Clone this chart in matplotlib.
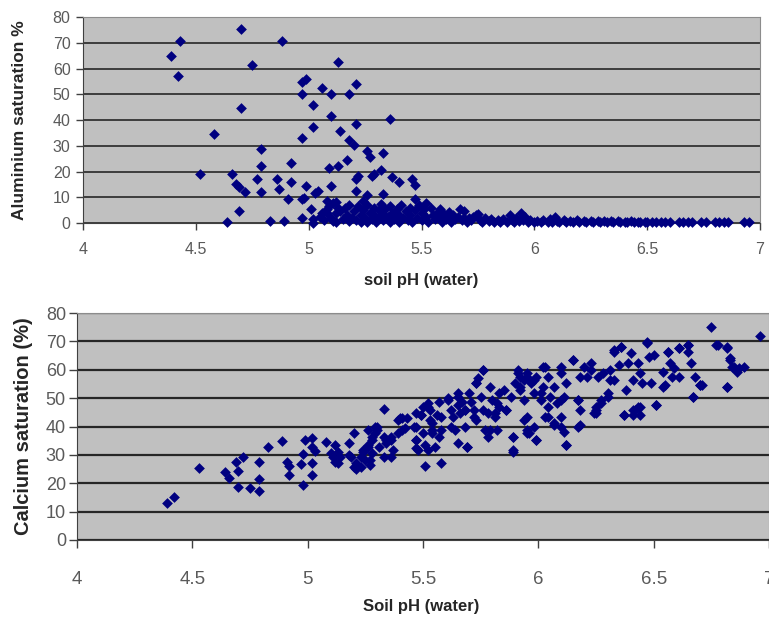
import matplotlib
matplotlib.use("Agg")
import matplotlib.pyplot as plt

plt.rcParams['font.family'] = ['Liberation Sans', 'DejaVu Sans']

# ---------------- Top chart: Aluminium saturation vs soil pH ----------------
al_ph = [4.39, 4.43, 4.42, 4.52, 4.58, 4.64, 4.66, 4.68, 4.69, 4.69, 4.70, 4.70, 4.72, 4.75,
         4.77, 4.79, 4.79, 4.79, 4.83, 4.86, 4.87, 4.88, 4.89, 4.91, 4.92, 4.92, 4.97, 4.97,
         4.97, 4.99, 4.97, 4.97, 4.99, 4.98, 5.02, 5.02, 5.01, 5.02, 5.02, 5.03, 5.04, 5.06,
         5.08, 5.08, 5.08, 5.09, 5.10, 5.10, 5.10, 5.11, 5.12, 5.12, 5.13, 5.13, 5.13, 5.14,
         5.11, 5.17, 5.18, 5.18, 5.18, 5.20, 5.21, 5.21, 5.21, 5.21, 5.22, 5.24, 5.26, 5.27,
         5.26, 5.28, 5.29, 5.32, 5.33, 5.33, 5.36, 5.37, 5.40, 5.46, 5.47, 5.47, 5.52, 5.58,
         5.62, 5.67, 5.69, 5.74, 5.75, 5.89, 5.94, 5.96, 6.09,
         # dense cluster 5.05-5.75
         5.05, 5.06, 5.07, 5.09, 5.10, 5.12, 5.14, 5.15, 5.16, 5.17, 5.18, 5.19, 5.20, 5.21,
         5.22, 5.23, 5.23, 5.24, 5.25, 5.26, 5.26, 5.27, 5.28, 5.29, 5.29, 5.30, 5.31, 5.31,
         5.32, 5.33, 5.33, 5.34, 5.35, 5.36, 5.36, 5.37, 5.38, 5.39, 5.40, 5.40, 5.41, 5.42,
         5.43, 5.44, 5.45, 5.45, 5.46, 5.47, 5.48, 5.49, 5.50, 5.50, 5.51, 5.52, 5.53, 5.54,
         5.55, 5.56, 5.57, 5.58, 5.59, 5.60, 5.61, 5.62, 5.63, 5.64, 5.65, 5.66, 5.68, 5.69,
         5.70, 5.71, 5.72, 5.73,
         # near-zero band
         5.76, 5.77, 5.78, 5.80, 5.81, 5.82, 5.84, 5.85, 5.86, 5.88, 5.90, 5.91, 5.92, 5.93,
         5.95, 5.97, 5.98, 6.00, 6.01, 6.03, 6.04, 6.06, 6.07, 6.08, 6.10, 6.11, 6.13, 6.14,
         6.16, 6.17, 6.19, 6.20, 6.22, 6.23, 6.25, 6.26, 6.28, 6.29, 6.31, 6.32, 6.34, 6.35,
         6.37, 6.38, 6.40, 6.41, 6.43, 6.44, 6.46, 6.47, 6.49, 6.50, 6.52, 6.54, 6.56, 6.58,
         6.60, 6.64, 6.66, 6.68, 6.70, 6.74, 6.76, 6.80, 6.82, 6.84, 6.86, 6.93, 6.95]
al_sat = [64.8, 70.8, 57.0, 19.1, 34.7, 0.5, 19.2, 15.0, 4.7, 14.1, 75.2, 44.8, 12.2, 61.4,
          17.0, 28.7, 22.3, 12.0, 0.9, 17.1, 13.2, 70.8, 0.9, 9.3, 23.4, 15.8, 33.0, 50.0,
          54.9, 55.9, 9.3, 1.9, 14.4, 9.6, 45.8, 37.3, 5.3, 1.5, 0.0, 11.5, 12.5, 52.5,
          8.5, 3.8, 5.5, 21.2, 50.0, 41.6, 14.3, 7.6, 3.9, 8.3, 62.4, 22.3, 5.8, 35.7,
          0.8, 24.5, 50.0, 32.3, 0.9, 30.3, 54.0, 38.5, 17.0, 12.6, 18.3, 8.6, 27.8, 25.8,
          10.9, 18.2, 19.0, 20.6, 27.2, 11.1, 40.3, 17.7, 16.0, 17.2, 14.6, 9.3, 7.6, 5.3,
          4.4, 5.3, 4.6, 3.2, 3.4, 3.1, 4.0, 2.5, 2.5,
          2.5, 4.0, 1.0, 6.5, 2.0, 0.5, 4.5, 1.5, 6.0, 3.0, 7.0, 2.0, 4.5, 1.0,
          6.5, 3.0, 0.5, 5.0, 2.0, 7.0, 0.5, 4.0, 1.5, 6.0, 3.0, 0.5, 5.0, 2.0,
          7.5, 3.5, 1.0, 5.5, 2.5, 0.5, 6.5, 4.0, 1.5, 5.5, 3.0, 0.5, 7.0, 2.0,
          4.5, 1.0, 6.0, 3.0, 0.5, 5.0, 2.0, 7.0, 4.0, 1.0, 5.5, 2.5, 0.5, 6.0,
          3.0, 1.5, 4.0, 2.0, 0.5, 3.5, 1.5, 2.5, 0.5, 3.0, 1.5, 2.5, 1.0, 2.0,
          0.5, 2.0, 1.0, 2.5,
          1.2, 0.4, 1.8, 0.6, 1.4, 0.3, 1.0, 0.5, 1.6, 0.4, 1.2, 0.3, 1.8, 0.6,
          1.0, 0.4, 1.3, 0.5, 0.9, 0.3, 1.1, 0.5, 1.4, 0.3, 0.9, 0.4, 1.2, 0.3,
          0.8, 0.4, 1.0, 0.3, 0.7, 0.4, 0.9, 0.3, 0.6, 0.4, 0.8, 0.3, 0.6, 0.4,
          0.7, 0.3, 0.5, 0.4, 0.6, 0.3, 0.5, 0.4, 0.5, 0.3, 0.4, 0.3, 0.4, 0.3,
          0.4, 0.3, 0.4, 0.3, 0.4, 0.3, 0.3, 0.4, 0.3, 0.3, 0.4, 0.3, 0.3]

# ---------------- Bottom chart: Calcium saturation vs soil pH ----------------
ca_ph = [4.39, 4.42, 4.53, 4.64, 4.66, 4.69, 4.70, 4.70, 4.72, 4.75, 4.79, 4.79, 4.79, 4.83,
         4.89, 4.91, 4.92, 4.92, 4.97, 4.98, 4.98, 4.99, 5.02, 5.02, 5.03, 5.02, 5.02, 5.08,
         5.10, 5.11, 5.12, 5.12, 5.13, 5.14, 5.18, 5.18, 5.20, 5.21, 5.20, 5.23, 5.24, 5.25,
         5.26, 5.26, 5.27, 5.28, 5.28, 5.29, 5.30, 5.31, 5.33, 5.33, 5.34, 5.36, 5.36, 5.37,
         5.39, 5.39,
         5.13, 5.19, 5.21, 5.23, 5.24, 5.26, 5.27, 5.28, 5.29, 5.30, 5.33, 5.34, 5.36, 5.40,
         5.42, 5.43, 5.47, 5.47, 5.48, 5.47, 5.49, 5.50, 5.51, 5.52, 5.52, 5.53, 5.54, 5.54,
         5.56, 5.57, 5.57, 5.58, 5.51, 5.58, 5.61, 5.62, 5.63, 5.64, 5.65, 5.65, 5.66, 5.67,
         5.68, 5.68, 5.69, 5.70, 5.71, 5.72, 5.73, 5.73, 5.74, 5.75, 5.76, 5.76, 5.77, 5.78,
         5.79, 5.80, 5.81, 5.82, 5.83, 5.85, 5.86, 5.88, 5.89, 5.89, 5.90, 5.91, 5.92, 5.94,
         5.95, 5.95,
         5.41, 5.41, 5.46, 5.47, 5.47, 5.49, 5.50, 5.52, 5.53, 5.54, 5.55, 5.58, 5.61, 5.62,
         5.65, 5.65, 5.68, 5.69, 5.72, 5.73, 5.76, 5.78, 5.79, 5.81, 5.82, 5.83, 5.86, 5.89,
         5.89, 5.91, 5.92, 5.94, 5.95, 5.96, 5.98, 5.99, 6.01, 6.02, 6.04, 6.04, 6.07, 6.10,
         6.10, 6.12, 6.15, 6.17, 6.18, 6.24, 6.25, 6.27, 6.30, 6.31, 6.33, 6.36, 6.37, 6.41,
         6.43, 6.47, 6.51, 6.55, 6.56, 6.61, 6.65, 6.67, 6.70, 6.75, 6.77, 6.82, 6.82, 6.83,
         6.85, 6.86, 6.89, 6.96,
         5.92, 5.95, 5.97, 5.98, 5.99, 6.01, 6.02, 6.03, 6.04, 6.05, 6.07, 6.08, 6.10, 6.10,
         6.11, 6.12, 6.15, 6.17, 6.18, 6.20, 6.21, 6.23, 6.23, 6.25, 6.26, 6.27, 6.28, 6.30,
         6.31, 6.33, 6.33, 6.35, 6.36, 6.38, 6.39, 6.40, 6.41, 6.41, 6.43, 6.44, 6.44, 6.45,
         6.47, 6.48, 6.49, 6.50, 6.51, 6.54, 6.54, 6.56, 6.57, 6.58, 6.59, 6.61, 6.61, 6.65,
         6.65, 6.66, 6.67, 6.68, 6.70, 6.71, 6.78, 6.82, 6.83, 6.82, 6.84, 6.87,
         5.94, 5.95, 5.98, 5.99, 6.03, 6.07, 6.10, 6.11, 6.12, 6.17, 6.18, 6.25, 6.37, 6.42,
         6.44]
ca_sat = [13.2, 15.3, 25.3, 24.1, 21.7, 27.6, 24.4, 18.8, 29.4, 18.2, 27.4, 21.6, 17.3, 32.9,
          34.9, 27.6, 26.2, 22.9, 26.8, 30.3, 19.4, 35.2, 36.1, 32.7, 31.5, 27.2, 22.9, 34.6,
          30.5, 29.4, 27.6, 33.5, 31.1, 29.4, 34.1, 30.0, 25.8, 24.9, 37.6, 29.4, 31.1, 28.2,
          32.9, 38.8, 26.4, 30.5, 35.2, 37.6, 39.9, 32.9, 46.2, 36.4, 34.1, 35.2, 29.4, 31.7,
          37.6, 42.3,
          27.0, 29.4, 27.0, 25.8, 31.7, 33.5, 28.2, 36.4, 39.9, 38.8, 29.4, 35.2, 36.4, 42.9,
          39.4, 42.9, 39.9, 35.2, 31.7, 44.6, 44.0, 37.6, 33.5, 31.7, 47.0, 45.8, 41.1, 38.8,
          44.0, 36.4, 48.7, 38.8, 26.1, 27.0, 49.9, 45.8, 43.5, 38.8, 51.7, 47.6, 44.6, 48.7,
          45.8, 39.9, 32.9, 51.7, 48.7, 45.8, 55.2, 42.3, 57.0, 50.5, 45.8, 59.9, 38.8, 44.6,
          54.0, 49.3, 44.6, 38.8, 47.0, 52.9, 45.8, 50.5, 36.4, 31.7, 55.2, 59.9, 52.9, 56.4,
          57.5, 38.8,
          42.9, 38.8, 39.9, 35.2, 32.3, 44.0, 47.0, 48.2, 42.3, 37.6, 32.9, 43.5, 49.3, 39.9,
          50.5, 34.1, 45.8, 32.9, 43.5, 55.2, 59.9, 36.4, 38.8, 43.5, 48.2, 51.7, 45.8, 36.4,
          31.1, 58.7, 54.0, 49.3, 43.5, 37.6, 56.4, 35.2, 51.7, 61.1, 47.0, 43.5, 41.1, 49.3,
          39.9, 33.5, 63.4, 49.3, 40.5, 44.6, 47.0, 49.3, 51.7, 56.4, 67.0, 68.1, 44.0, 44.0,
          47.0, 69.5, 47.6, 54.6, 66.4, 67.6, 68.7, 50.5, 54.6, 75.2, 68.7, 68.1, 54.0, 63.4,
          61.1, 59.3, 61.1, 72.0,
          57.5, 58.7, 55.2, 51.7, 57.5, 49.3, 54.0, 61.1, 57.5, 50.5, 54.0, 48.2, 58.7, 61.1,
          50.5, 55.2, 63.4, 49.3, 57.5, 61.1, 57.5, 62.3, 59.9, 45.8, 57.5, 48.2, 58.7, 50.5,
          59.9, 66.4, 56.4, 61.7, 68.1, 52.9, 62.3, 65.8, 56.4, 45.8, 62.3, 47.0, 58.7, 55.2,
          69.9, 64.6, 55.2, 65.2, 47.6, 59.3, 54.0, 66.4, 62.3, 57.5, 60.5, 67.6, 57.5, 68.7,
          66.4, 62.3, 50.5, 57.5, 54.6, 54.6, 68.7, 67.6, 64.0, 54.0, 61.1, 60.5,
          42.3, 37.6, 39.9, 35.2, 43.5, 40.5, 43.5, 38.2, 33.5, 39.9, 45.8, 44.6, 44.0, 45.8,
          44.0]

x_ticks = [4, 4.5, 5, 5.5, 6, 6.5, 7]
x_tick_labels = ['4', '4.5', '5', '5.5', '6', '6.5', '7']
y_ticks = [0, 10, 20, 30, 40, 50, 60, 70, 80]

marker_color = '#000080'
bg = '#C0C0C0'
tick_col = '#5a5a5a'
lab_col = '#262626'

fig = plt.figure(figsize=(7.69, 6.24), dpi=100)

# Top axes
ax1 = fig.add_axes([83/769, 1-223/624, (760-83)/769, (223-17)/624])
ax1.set_facecolor(bg)
ax1.set_xlim(4, 7)
ax1.set_ylim(0, 80)
ax1.set_yticks(y_ticks)
ax1.set_xticks(x_ticks)
ax1.set_xticklabels(x_tick_labels)
ax1.grid(axis='y', color='#1a1a1a', linewidth=1.1, zorder=1)
ax1.set_axisbelow(True)
ax1.scatter(al_ph, al_sat, marker='D', s=30, color=marker_color, linewidths=0, zorder=3, clip_on=False)
ax1.tick_params(axis='both', direction='out', length=5, width=1, colors='#404040',
                labelcolor=tick_col, labelsize=11.5)
ax1.tick_params(axis='x', pad=9)
ax1.tick_params(axis='y', pad=4)
for s in ['top', 'right']:
    ax1.spines[s].set_color('#8c8c8c')
for s in ['left', 'bottom']:
    ax1.spines[s].set_color('#404040')
ax1.set_ylabel('Aluminium saturation %', fontsize=12.5, fontweight='bold', color=lab_col)
ax1.yaxis.set_label_coords(-0.083, 0.5)
ax1.set_xlabel('soil pH (water)', fontsize=12, fontweight='bold', color=lab_col)
ax1.xaxis.set_label_coords(0.5, -0.245)

# Bottom axes
ax2 = fig.add_axes([77/769, 1-540/624, (769-77)/769, (540-313)/624])
ax2.set_facecolor(bg)
ax2.set_xlim(4, 7)
ax2.set_ylim(0, 80)
ax2.set_yticks(y_ticks)
ax2.set_xticks(x_ticks)
ax2.set_xticklabels(x_tick_labels)
ax2.grid(axis='y', color='#262626', linewidth=1.6, zorder=1)
ax2.set_axisbelow(True)
ax2.scatter(ca_ph, ca_sat, marker='D', s=30, color=marker_color, linewidths=0, zorder=3)
ax2.tick_params(axis='both', direction='out', length=6, width=1, colors='#404040',
                labelcolor=tick_col)
ax2.tick_params(axis='x', pad=16, labelsize=13.5)
ax2.tick_params(axis='y', pad=2, labelsize=13)
for s in ['top', 'right']:
    ax2.spines[s].set_color('#8c8c8c')
for s in ['left', 'bottom']:
    ax2.spines[s].set_color('#404040')
ax2.set_ylabel('Calcium saturation (%)', fontsize=14.5, fontweight='bold', color=lab_col)
ax2.yaxis.set_label_coords(-0.064, 0.5)
ax2.set_xlabel('Soil pH (water)', fontsize=12, fontweight='bold', color=lab_col)
ax2.xaxis.set_label_coords(0.497, -0.26)

fig.savefig('out.png', dpi=100)
